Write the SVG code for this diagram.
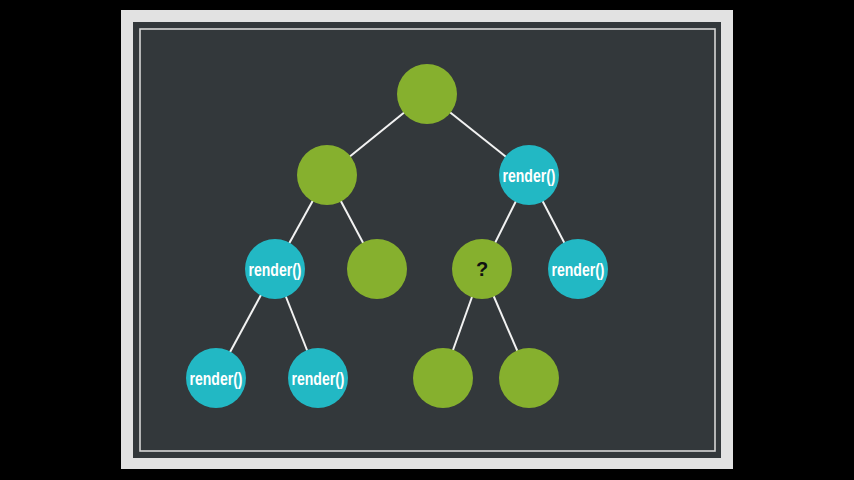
<svg xmlns="http://www.w3.org/2000/svg" width="854" height="480" viewBox="0 0 854 480">
<style>
.edge{stroke:#f2f2f2;stroke-width:2;fill:none}
.g{fill:#86b02e}
.t{fill:#22b8c4}
.lbl{font-family:"Liberation Sans",Arial,sans-serif;font-weight:bold;font-size:18px;fill:#ffffff;text-anchor:middle}
.q{font-family:"Liberation Sans",Arial,sans-serif;font-weight:bold;font-size:20px;fill:#111111;text-anchor:middle}
</style>
<rect x="0" y="0" width="854" height="480" fill="#000000"/>
<rect x="121" y="10" width="612" height="459" fill="#e2e2e2"/>
<rect x="133" y="22" width="588" height="436" fill="#33383b"/>
<rect x="140" y="29" width="575" height="422" fill="none" stroke="#d6d6d6" stroke-width="1.6"/>
<g id="connectors">
<line class="edge" x1="427" y1="94" x2="327" y2="175"/>
<line class="edge" x1="427" y1="94" x2="529" y2="175"/>
<line class="edge" x1="327" y1="175" x2="275" y2="269"/>
<line class="edge" x1="327" y1="175" x2="377" y2="269"/>
<line class="edge" x1="529" y1="175" x2="482" y2="269"/>
<line class="edge" x1="529" y1="175" x2="578" y2="269"/>
<line class="edge" x1="275" y1="269" x2="216" y2="378"/>
<line class="edge" x1="275" y1="269" x2="318" y2="378"/>
<line class="edge" x1="482" y1="269" x2="443" y2="378"/>
<line class="edge" x1="482" y1="269" x2="529" y2="378"/>
</g>
<g id="n-root"><circle class="g" cx="427" cy="94" r="30"/></g>
<g id="n-l1a"><circle class="g" cx="327" cy="175" r="30"/></g>
<g id="n-l1b"><circle class="t" cx="529" cy="175" r="30"/><text class="lbl" x="529" y="182" textLength="53" lengthAdjust="spacingAndGlyphs">render()</text></g>
<g id="n-l2a"><circle class="t" cx="275" cy="269" r="30"/><text class="lbl" x="275" y="276" textLength="53" lengthAdjust="spacingAndGlyphs">render()</text></g>
<g id="n-l2b"><circle class="g" cx="377" cy="269" r="30"/></g>
<g id="n-l2c"><circle class="g" cx="482" cy="269" r="30"/><text class="q" x="482" y="276">?</text></g>
<g id="n-l2d"><circle class="t" cx="578" cy="269" r="30"/><text class="lbl" x="578" y="276" textLength="53" lengthAdjust="spacingAndGlyphs">render()</text></g>
<g id="n-l3a"><circle class="t" cx="216" cy="378" r="30"/><text class="lbl" x="216" y="385" textLength="53" lengthAdjust="spacingAndGlyphs">render()</text></g>
<g id="n-l3b"><circle class="t" cx="318" cy="378" r="30"/><text class="lbl" x="318" y="385" textLength="53" lengthAdjust="spacingAndGlyphs">render()</text></g>
<g id="n-l3c"><circle class="g" cx="443" cy="378" r="30"/></g>
<g id="n-l3d"><circle class="g" cx="529" cy="378" r="30"/></g>
</svg>
